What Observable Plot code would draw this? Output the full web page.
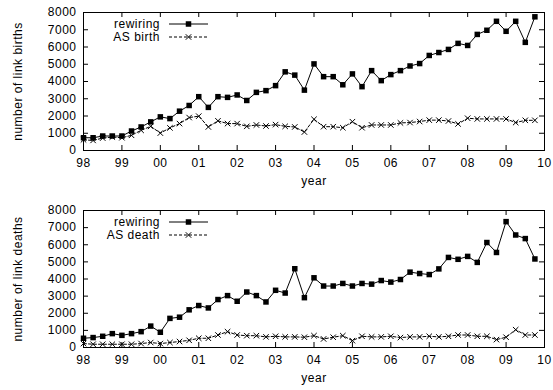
<!DOCTYPE html>
<html><head><meta charset="utf-8">
<script src="https://cdn.jsdelivr.net/npm/d3@7"></script>
<script src="https://cdn.jsdelivr.net/npm/@observablehq/plot@0.6"></script>
<style>
body{margin:0;background:#fff;font-family:"Liberation Sans",Arial,sans-serif;}
#wrap{width:553px;height:390px;}
#wrap svg{display:block;}
#wrap svg text{letter-spacing:0.5px;}
</style></head><body><div id="wrap"></div>
<script>
// quarterly samples from 1998.00 to 2009.75
const startYear = 1998;
const quarterStep = 0.25;

const rewiringBirth = [740,740,840,840,840,1130,1365,1660,1950,1850,2280,2610,3120,2500,3120,3080,3220,2900,3370,3470,3760,4560,4370,3500,5020,4280,4280,3810,4440,3700,4630,4050,4400,4630,4900,5040,5510,5680,5860,6210,6090,6730,6970,7490,6910,7490,6270,7750];
const asBirth = [620,585,720,780,740,880,1170,1400,1010,1310,1560,1910,1990,1365,1720,1560,1560,1400,1480,1420,1500,1400,1365,1070,1810,1380,1380,1320,1670,1320,1480,1480,1480,1600,1620,1680,1760,1760,1710,1540,1870,1830,1830,1830,1830,1620,1750,1750];
const rewiringDeath = [540,580,655,810,710,810,925,1250,890,1700,1770,2200,2450,2310,2800,3030,2700,3240,3030,2660,3340,3180,4600,2910,4070,3590,3590,3740,3590,3740,3700,3910,3820,3970,4400,4320,4260,4590,5260,5150,5320,4970,6130,5550,7350,6570,6360,5170];
const asDeath = [230,190,190,190,190,190,230,290,230,290,350,420,540,540,730,925,730,690,690,620,655,620,620,600,690,500,600,690,400,655,620,620,655,580,620,620,655,620,655,730,730,655,655,460,600,1040,730,730];

const yearTicks = [1998,1999,2000,2001,2002,2003,2004,2005,2006,2007,2008,2009,2010];
const yearLabels = ["98","99","00","01","02","03","04","05","06","07","08","09","10"];
const countTicks = [0,1000,2000,3000,4000,5000,6000,7000,8000];

const W = 553, H = 195, ML = 83, MR = 9;
const FONT = "Liberation Sans, Arial, sans-serif";
const FS = 12;

function makePanel({rew, as, asLabel, yLabel, mt, mb, legDy}) {
  const rows = (arr) => arr.map((v, i) => ({x: startYear + i * quarterStep, y: v}));
  const rd = rows(rew), ad = rows(as);
  const ph = H - mt - mb, pw = W - ML - MR, tk = 5;
  const chart = Plot.plot({
    width: W, height: H, marginLeft: ML, marginRight: MR, marginTop: mt, marginBottom: mb,
    style: {fontFamily: FONT, fontSize: FS + "px", color: "#000", background: "#fff"},
    x: {domain: [1998, 2010], axis: null},
    y: {domain: [0, 8000], axis: null},
    marks: [
      Plot.axisX({ticks: yearTicks, tickFormat: (d) => yearLabels[yearTicks.indexOf(d)], tickSize: 0, tickPadding: 8, label: null, fontSize: FS}),
      Plot.axisY({ticks: countTicks, tickSize: 0, tickPadding: 7, tickFormat: (d) => String(d), label: null, fontSize: FS}),
      Plot.tickX(yearTicks, {x: (d) => d, insetTop: ph - tk, stroke: "#000"}),
      Plot.tickX(yearTicks, {x: (d) => d, insetBottom: ph - tk, stroke: "#000"}),
      Plot.tickY(countTicks, {y: (d) => d, insetRight: pw - tk, stroke: "#000"}),
      Plot.tickY(countTicks, {y: (d) => d, insetLeft: pw - tk, stroke: "#000"}),
      Plot.line(ad, {x: "x", y: "y", stroke: "#000", strokeWidth: 1, strokeDasharray: "3,2"}),
      Plot.dot(ad, {x: "x", y: "y", symbol: "times", r: 2.6, stroke: "#000", strokeWidth: 1}),
      Plot.line(rd, {x: "x", y: "y", stroke: "#000", strokeWidth: 1}),
      Plot.dot(rd, {x: "x", y: "y", symbol: "square", r: 3.1, fill: "#000", stroke: "none"}),
      Plot.frame({stroke: "#000", strokeWidth: 1}),
      Plot.text(["year"], {frameAnchor: "bottom", dy: 34, fontSize: FS, fill: "#000"}),
      Plot.text([yLabel], {frameAnchor: "left", textAnchor: "middle", rotate: -90, dx: -65, fontSize: FS, fill: "#000"})
    ]
  });
  // legend
  const svg = d3.select(chart);
  const g = svg.append("g").attr("font-family", FONT).attr("font-size", FS);
  const rowsLeg = [
    {label: "rewiring", dash: null, sym: "square"},
    {label: asLabel, dash: "3,2", sym: "times"}
  ];
  rowsLeg.forEach((r, i) => {
    const cy = mt + legDy + i * 13;
    g.append("text").attr("x", 160).attr("y", cy).attr("dy", "0.35em").attr("text-anchor", "end").attr("fill", "#000").text(r.label);
    g.append("line").attr("x1", 169).attr("x2", 208).attr("y1", cy).attr("y2", cy).attr("stroke", "#000").attr("stroke-dasharray", r.dash);
    if (r.sym === "square") {
      g.append("rect").attr("x", 188.5 - 2.75).attr("y", cy - 2.75).attr("width", 5.5).attr("height", 5.5).attr("fill", "#000");
    } else {
      g.append("path").attr("d", d3.symbol(d3.symbolTimes, 2.6 * 2.6 * Math.PI)()).attr("transform", `translate(188.5,${cy})`).attr("stroke", "#000").attr("fill", "none");
    }
  });
  return chart;
}

const wrap = document.getElementById("wrap");
wrap.appendChild(makePanel({rew: rewiringBirth, as: asBirth, asLabel: "AS birth", yLabel: "number of link births", mt: 12, mb: 45, legDy: 12}));
wrap.appendChild(makePanel({rew: rewiringDeath, as: asDeath, asLabel: "AS death", yLabel: "number of link deaths", mt: 15, mb: 43, legDy: 12}));
</script></body></html>
